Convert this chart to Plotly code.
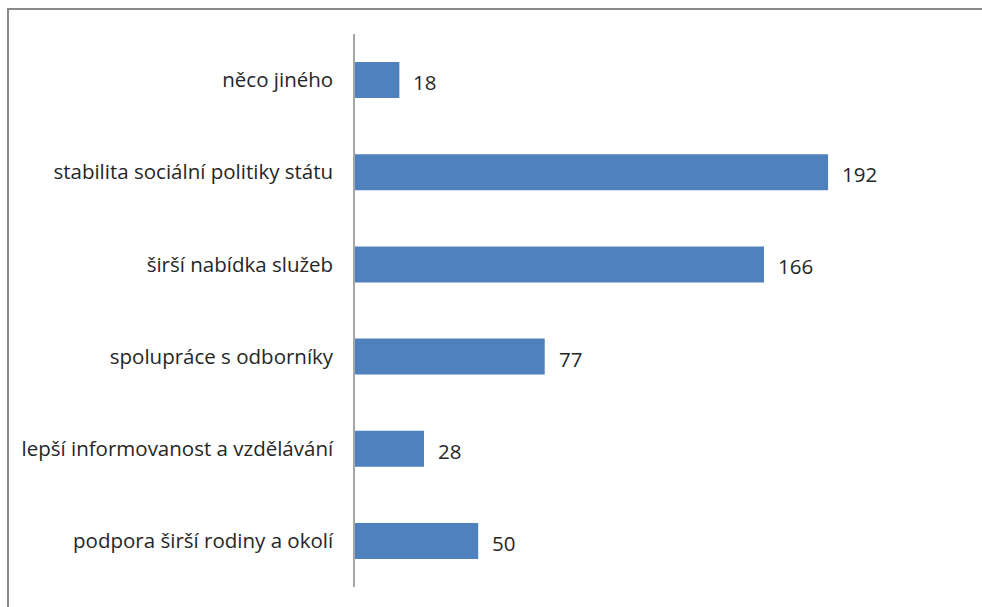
import plotly.graph_objects as go

# Survey answers (bottom to top as drawn) and their counts
categories = [
    "podpora širší rodiny a okolí",
    "lepší informovanost a vzdělávání",
    "spolupráce s odborníky",
    "širší nabídka služeb",
    "stabilita sociální politiky státu",
    "něco jiného",
]
counts = [50, 28, 77, 166, 192, 18]

W, H = 982, 607
L, R, T, B = 355, 11, 34, 20
plot_w = W - L - R
plot_h = H - T - B

font_family = "'Open Sans', sans-serif"
font_size = 20.5
text_color = "#262626"

fig = go.Figure(
    go.Bar(
        x=counts,
        y=categories,
        orientation="h",
        marker=dict(color="#4F81BD", line=dict(width=0)),
        hoverinfo="skip",
    )
)

# value labels to the right of each bar
for c, v in zip(categories, counts):
    fig.add_annotation(
        x=v, y=c, xref="x", yref="y",
        text=str(v), showarrow=False,
        xanchor="left", yanchor="middle", xshift=12, yshift=-2,
        font=dict(family=font_family, size=font_size, color=text_color),
    )

# outer chart frame
def px_x(p):
    return (p - L) / plot_w

def px_y(p):
    return 1 - (p - T) / plot_h

fig.add_shape(
    type="rect", xref="paper", yref="paper",
    x0=px_x(8), x1=px_x(W + 10), y0=px_y(H + 10), y1=px_y(9),
    line=dict(color="#8a8a8a", width=2), fillcolor="rgba(0,0,0,0)",
    layer="above",
)

fig.update_layout(
    width=W, height=H,
    margin=dict(l=L, r=R, t=T, b=B, pad=0),
    paper_bgcolor="white", plot_bgcolor="white",
    bargap=0.61,
    showlegend=False,
    font=dict(family=font_family, size=font_size, color=text_color),
    xaxis=dict(
        range=[0, 250], visible=False, showgrid=False, zeroline=False,
    ),
    yaxis=dict(
        categoryorder="array", categoryarray=categories,
        showline=True, linecolor="#a6a6a6", linewidth=1.5,
        showgrid=False, zeroline=False, ticks="",
        ticklabelstandoff=16,
        tickfont=dict(family=font_family, size=font_size, color=text_color),
    ),
)

fig.write_html("out.html")
